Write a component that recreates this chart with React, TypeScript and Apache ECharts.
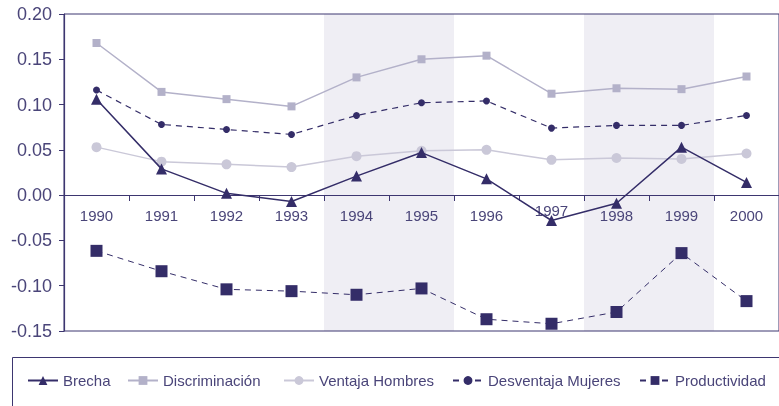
import React, { useEffect, useRef } from "react";
import * as echarts from "echarts";

const years = ["1990", "1991", "1992", "1993", "1994", "1995", "1996", "1997", "1998", "1999", "2000"];
const brecha = [0.106, 0.029, 0.002, -0.007, 0.021, 0.047, 0.018, -0.028, -0.009, 0.053, 0.014];
const discriminacion = [0.168, 0.114, 0.106, 0.098, 0.13, 0.15, 0.154, 0.112, 0.118, 0.117, 0.131];
const ventajaHombres = [0.053, 0.037, 0.034, 0.031, 0.043, 0.049, 0.05, 0.039, 0.041, 0.04, 0.046];
const desventajaMujeres = [0.116, 0.078, 0.0725, 0.067, 0.088, 0.102, 0.104, 0.074, 0.077, 0.077, 0.088];
const productividad = [-0.0615, -0.084, -0.104, -0.106, -0.11, -0.103, -0.137, -0.142, -0.129, -0.064, -0.117];
const shadedYears = ["1994", "1995", "1998", "1999"];
const raisedLabels = ["1997"];
const legendNames = ["Brecha", "Discriminación", "Ventaja Hombres", "Desventaja Mujeres", "Productividad"];
const legendLefts = [27, 127, 283, 452, 639];

const DARK = "#342d68";
const AXIS = "#3d3670";
const TEXT = "#4a4579";
const FONT = "'Liberation Sans', Arial, sans-serif";

export default function App() {
  const ref = useRef<HTMLDivElement>(null);
  useEffect(() => {
    if (!ref.current) return;
    const chart = echarts.init(ref.current, undefined, { renderer: "svg" });
    chart.setOption({
      animation: false,
      textStyle: { fontFamily: FONT },
      grid: [
        {
          left: 64,
          top: 14,
          width: 719,
          height: 317,
          show: true,
          borderColor: AXIS,
          borderWidth: 1,
          backgroundColor: "transparent",
          containLabel: false,
        },
        {
          left: 64,
          top: 14,
          width: 719,
          height: 181,
          show: false,
          containLabel: false,
        },
      ],
      graphic: [
        {
          type: "rect",
          shape: { x: 12.5, y: 357.5, width: 800, height: 100 },
          style: { fill: "none", stroke: AXIS, lineWidth: 1 },
        },
      ],
      legend: legendNames.map((name, i) => ({
        data: [name],
        left: legendLefts[i],
        top: 373,
        padding: 0,
        itemWidth: 30,
        itemHeight: 11,
        itemGap: 5,
        textStyle: { fontSize: 15, color: TEXT, fontFamily: FONT },
      })),
      xAxis: [
        {
          type: "category",
          gridIndex: 0,
          data: years,
          boundaryGap: true,
          axisLine: { show: false },
          axisTick: { show: false },
          axisLabel: { show: false },
          splitLine: { show: false },
        },
        {
          type: "category",
          gridIndex: 1,
          data: years,
          boundaryGap: true,
          axisLine: { show: true, lineStyle: { color: AXIS, width: 1.2 } },
          axisTick: { show: true, length: 6, interval: 0, lineStyle: { color: AXIS } },
          axisLabel: {
            interval: 0,
            margin: 8,
            fontSize: 15,
            color: TEXT,
            fontFamily: FONT,
            formatter: (v: string) => (raisedLabels.includes(v) ? `{r|${v}}` : `{n|${v}}`),
            rich: {
              n: { padding: [5, 0, 0, 0], fontSize: 15, color: TEXT, fontFamily: FONT },
              r: { padding: [0, 0, 0, 0], fontSize: 15, color: TEXT, fontFamily: FONT },
            },
          },
          splitLine: { show: false },
        },
      ],
      yAxis: [
        {
          type: "value",
          gridIndex: 0,
          min: -0.15,
          max: 0.2,
          interval: 0.05,
          axisLine: { show: true, lineStyle: { color: AXIS, width: 1.2 } },
          axisTick: { show: true, length: 5, lineStyle: { color: AXIS } },
          axisLabel: {
            margin: 12,
            fontSize: 18,
            color: TEXT,
            fontFamily: FONT,
            formatter: (v: number) => v.toFixed(2),
          },
          splitLine: { show: false },
        },
        { type: "value", gridIndex: 0, min: 0, max: 1, show: false },
        { type: "value", gridIndex: 1, min: 0, max: 1, show: false },
      ],
      series: [
        {
          name: "bands",
          type: "bar",
          xAxisIndex: 0,
          yAxisIndex: 1,
          data: years.map((y) => (shadedYears.includes(y) ? 1 : "-")),
          barWidth: "100%",
          barGap: "0%",
          itemStyle: { color: "#efeef4" },
          silent: true,
          z: -1,
        },
        {
          name: "Brecha",
          type: "line",
          data: brecha,
          symbol: "triangle",
          symbolSize: 11,
          color: DARK,
          lineStyle: { color: DARK, width: 1.5 },
          z: 5,
        },
        {
          name: "Discriminación",
          type: "line",
          data: discriminacion,
          symbol: "rect",
          symbolSize: 8,
          color: "#b3b1c9",
          lineStyle: { color: "#b3b1c9", width: 1.5 },
        },
        {
          name: "Ventaja Hombres",
          type: "line",
          data: ventajaHombres,
          symbol: "circle",
          symbolSize: 10,
          color: "#cac8d8",
          lineStyle: { color: "#cac8d8", width: 1.5 },
        },
        {
          name: "Desventaja Mujeres",
          type: "line",
          data: desventajaMujeres,
          symbol: "circle",
          symbolSize: 7,
          color: DARK,
          lineStyle: { color: DARK, width: 1.2, type: [6, 5] },
        },
        {
          name: "Productividad",
          type: "line",
          data: productividad,
          symbol: "rect",
          symbolSize: 12,
          color: DARK,
          lineStyle: { color: DARK, width: 1, type: [6, 5] },
        },
      ],
    });
    return () => chart.dispose();
  }, []);
  return (
    <div
      ref={ref}
      style={{ position: "fixed", left: 0, top: 0, width: 779, height: 406 }}
    />
  );
}
